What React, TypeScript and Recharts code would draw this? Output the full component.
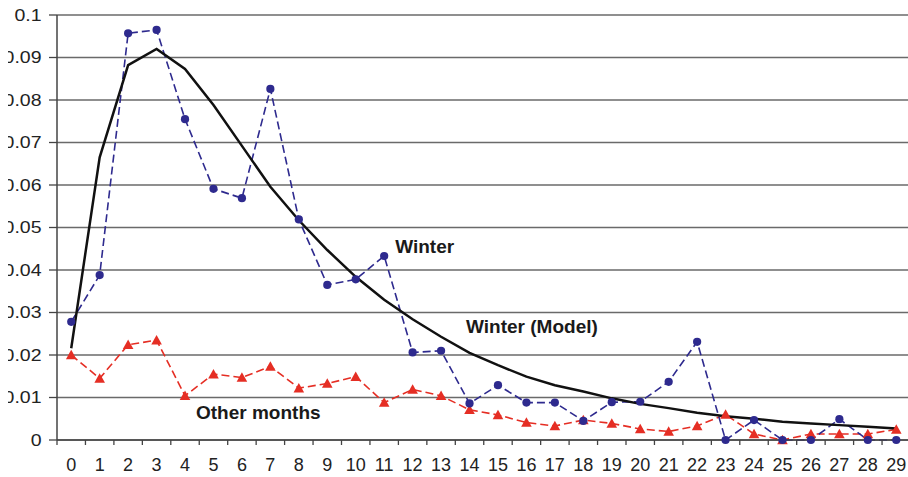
import React from "react";
import {
  LineChart,
  Line,
  XAxis,
  YAxis,
  CartesianGrid,
  ReferenceDot,
} from "recharts";

// ---------- data ----------
const categories = [
  "0", "1", "2", "3", "4", "5", "6", "7", "8", "9",
  "10", "11", "12", "13", "14", "15", "16", "17", "18", "19",
  "20", "21", "22", "23", "24", "25", "26", "27", "28", "29",
];

const winter = [
  0.0278, 0.0388, 0.0957, 0.0965, 0.0755, 0.0591, 0.0569, 0.0826, 0.0519, 0.0365,
  0.0378, 0.0433, 0.0206, 0.021, 0.0086, 0.0129, 0.0088, 0.0088, 0.0045, 0.0089,
  0.009, 0.0137, 0.0231, 0.0, 0.0047, 0.0, 0.0, 0.0049, 0.0, 0.0,
];

const winterModel = [
  0.0216, 0.0665, 0.0882, 0.092, 0.0873, 0.0788, 0.0692, 0.0596, 0.0517, 0.0447,
  0.0384, 0.033, 0.0284, 0.0243, 0.0205, 0.0176, 0.0149, 0.0129, 0.0114, 0.0098,
  0.0085, 0.0075, 0.0064, 0.0056, 0.005, 0.0043, 0.0039, 0.0035, 0.0031, 0.0027,
];

const otherMonths = [
  0.02, 0.0145, 0.0224, 0.0235, 0.0104, 0.0155, 0.0147, 0.0173, 0.0122, 0.0133,
  0.0149, 0.0088, 0.0119, 0.0104, 0.0071, 0.0059, 0.0041, 0.0033, 0.0047, 0.0039,
  0.0026, 0.002, 0.0033, 0.006, 0.0014, 0.0, 0.0014, 0.0014, 0.0014, 0.0025,
];

const yTicks = [0, 0.01, 0.02, 0.03, 0.04, 0.05, 0.06, 0.07, 0.08, 0.09, 0.1];
const yTickLabels = ["0", "0.01", "0.02", "0.03", "0.04", "0.05", "0.06", "0.07", "0.08", "0.09", "0.1"];

// annotation texts, anchored to a category and a value
const annotationTexts = ["Winter", "Winter (Model)", "Other months"];
const annotationCats = ["11", "13", "4"];
const annotationValues = [0.044, 0.0252, 0.0049];
const annotationDx = [11, 25, 11];

const data = categories.map((c, i) => ({
  cat: c,
  winter: winter[i],
  model: winterModel[i],
  other: otherMonths[i],
}));

// ---------- layout ----------
const PAGE_W = 908;
const PAGE_H = 477;
const OFFSET = 8;
const CHART_W = 910;
const CHART_H = 469;
const MARGIN = { top: 7, right: 7.5, bottom: 0, left: 0 };
const Y_AXIS_W = 49;
const X_AXIS_H = 37;
const PLOT_W = CHART_W - MARGIN.left - MARGIN.right - Y_AXIS_W;
const BAND = PLOT_W / categories.length;
const X_TICK_SIZE = 5;
const X_TICK_MARGIN = 13;

const FONT = "'Liberation Sans', Arial, Helvetica, sans-serif";
const AXIS_COLOR = "#444";
const BLUE = "#2E2A8E";
const RED = "#E52E24";

const YTick = (props: any) => {
  const { x, y, payload } = props;
  const idx = yTicks.indexOf(payload.value);
  const label = idx >= 0 ? yTickLabels[idx] : String(payload.value);
  return (
    <g transform={`translate(${x},${y})`}>
      <text
        transform="scale(1.22,1)"
        textAnchor="end"
        dy="0.355em"
        fontSize={16}
        fontFamily={FONT}
        fill="#222"
      >
        {label}
      </text>
    </g>
  );
};

const XTick = (props: any) => {
  const { x, y, payload } = props;
  const axisY = y - X_TICK_SIZE - X_TICK_MARGIN;
  const lx = x - BAND / 2;
  return (
    <g>
      <line x1={lx} y1={axisY} x2={lx} y2={axisY + X_TICK_SIZE} stroke={AXIS_COLOR} strokeWidth={1.3} />
      <text
        x={x}
        y={y}
        dy="0.71em"
        textAnchor="middle"
        fontSize={18}
        fontFamily={FONT}
        fill="#222"
      >
        {payload.value}
      </text>
    </g>
  );
};

const Triangle = (props: any) => {
  const { cx, cy, index } = props;
  if (cx == null || cy == null) return <g key={`t-${index}`} />;
  const w = 5.3;
  const h = 8.5;
  return (
    <polygon
      key={`t-${index}`}
      points={`${cx - w},${cy + h / 2} ${cx + w},${cy + h / 2} ${cx},${cy - h / 2 - 1}`}
      fill={RED}
      stroke="none"
    />
  );
};

const makeLabel = (text: string, dx: number) => (p: any) => {
  const vb = p.viewBox || {};
  const x = (vb.x || 0) + (vb.width || 0) / 2;
  const y = (vb.y || 0) + (vb.height || 0) / 2;
  return (
    <text
      x={x + dx}
      y={y}
      textAnchor="start"
      fontSize={19}
      fontWeight="bold"
      fontFamily={FONT}
      fill="#1a1a1a"
    >
      {text}
    </text>
  );
};

export default function App() {
  return (
    <div
      style={{
        width: PAGE_W,
        height: PAGE_H,
        boxSizing: "border-box",
        paddingLeft: OFFSET,
        paddingTop: OFFSET,
        overflow: "hidden",
        background: "#fff",
      }}
    >
      <style>{"html,body{margin:0;padding:0;overflow:hidden;background:#fff;}"}</style>
      <LineChart width={CHART_W} height={CHART_H} data={data} margin={MARGIN}>
        <CartesianGrid horizontal vertical={false} stroke="#6a6a6a" strokeWidth={1.5} />
        <XAxis
          dataKey="cat"
          type="category"
          interval={0}
          height={X_AXIS_H}
          padding={{ left: BAND / 2, right: BAND / 2 }}
          axisLine={{ stroke: AXIS_COLOR, strokeWidth: 1.5 }}
          tickLine={false}
          tickSize={X_TICK_SIZE}
          tickMargin={X_TICK_MARGIN}
          tick={<XTick />}
        />
        <YAxis
          type="number"
          domain={[0, 0.1]}
          ticks={yTicks}
          interval={0}
          width={Y_AXIS_W}
          axisLine={{ stroke: AXIS_COLOR, strokeWidth: 1.5 }}
          tickLine={{ stroke: AXIS_COLOR, strokeWidth: 1.3 }}
          tickSize={8}
          tickMargin={7.5}
          tick={<YTick />}
        />
        <Line
          dataKey="other"
          stroke={RED}
          strokeWidth={1.6}
          strokeDasharray="8 4"
          dot={Triangle}
          activeDot={false}
          isAnimationActive={false}
        />
        <Line
          dataKey="winter"
          stroke={BLUE}
          strokeWidth={1.6}
          strokeDasharray="8 4"
          dot={{ r: 4.1, fill: BLUE, stroke: BLUE, strokeWidth: 0 }}
          activeDot={false}
          isAnimationActive={false}
        />
        <Line
          dataKey="model"
          stroke="#111"
          strokeWidth={2.5}
          dot={false}
          activeDot={false}
          isAnimationActive={false}
        />
        {annotationTexts.map((t, i) => (
          <ReferenceDot
            key={t}
            x={annotationCats[i]}
            y={annotationValues[i]}
            r={0}
            fill="none"
            stroke="none"
            label={makeLabel(t, annotationDx[i])}
          />
        ))}
      </LineChart>
    </div>
  );
}
